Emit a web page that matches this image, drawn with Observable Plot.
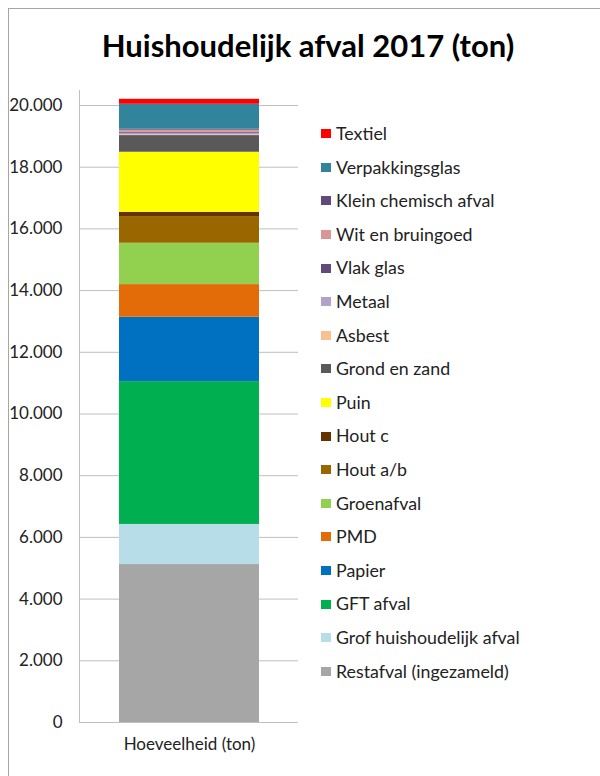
<!DOCTYPE html>
<html>
<head>
<meta charset="utf-8">
<script src="https://cdn.jsdelivr.net/npm/d3@7"></script>
<script src="https://cdn.jsdelivr.net/npm/@observablehq/plot@0.6"></script>
<style>
  html, body { margin: 0; padding: 0; background: #fff; overflow: hidden; }
  #wrap { position: relative; width: 600px; height: 776px; font-family: Lato, "Open Sans", sans-serif; }
  #box { position: absolute; left: 8px; top: 8px; width: 620px; height: 800px; border-left: 1px solid #a6a6a6; border-top: 1px solid #a6a6a6; }
  #title { position: absolute; left: 8px; width: 600px; top: 25px; text-align: center; font-size: 31px; font-weight: bold; color: #000; line-height: 40px; }
  #chart { position: absolute; left: 0; top: 90px; }
  #legend { position: absolute; left: 321px; top: 117px; font-size: 17.8px; color: #222; }
  .item { height: 33.6px; line-height: 33.6px; display: flex; align-items: center; white-space: nowrap; }
  .sw { width: 10px; height: 9px; margin-right: 5px; flex: none; }
</style>
</head>
<body>
<div id="wrap">
  <div id="box"></div>
  <div id="title">Huishoudelijk afval 2017 (ton)</div>
  <div id="chart"></div>
  <div id="legend"></div>
</div>
<script>
// Categories from bottom of the stack to top
const categories = [
  "Restafval (ingezameld)",
  "Grof huishoudelijk afval",
  "GFT afval",
  "Papier",
  "PMD",
  "Groenafval",
  "Hout a/b",
  "Hout c",
  "Puin",
  "Grond en zand",
  "Asbest",
  "Metaal",
  "Vlak glas",
  "Wit en bruingoed",
  "Klein chemisch afval",
  "Verpakkingsglas",
  "Textiel"
];
const values = [5120, 1300, 4630, 2085, 1060, 1340, 865, 140, 1945, 540, 20, 55, 30, 70, 30, 810, 160];
const colors = [
  "#a6a6a6", "#b7dde8", "#00b050", "#0070c0", "#e36c09", "#92d050", "#996600", "#663300",
  "#ffff00", "#595959", "#fac090", "#b3a2c7", "#604a7b", "#d99694", "#604a7b", "#31849b", "#ff0000"
];
const seriesName = "Hoeveelheid (ton)";
const yTicks = [0, 2000, 4000, 6000, 8000, 10000, 12000, 14000, 16000, 18000, 20000];

const nl = d3.formatLocale({decimal: ",", thousands: ".", grouping: [3], currency: ["€", ""]});
const fmt = nl.format(",");

const data = categories.map((c, i) => ({cat: c, value: values[i], series: seriesName}));

const chart = Plot.plot({
  width: 300,
  height: 680,
  marginLeft: 79,
  marginRight: 2,
  marginTop: 0,
  marginBottom: 48,
  style: {fontFamily: "Lato, 'Open Sans', sans-serif", fontSize: "17px", color: "#222", background: "transparent"},
  x: {domain: [seriesName], padding: 0.22, label: null},
  y: {domain: [0, 20000], insetTop: 15, label: null},
  color: {domain: categories, range: colors},
  marks: [
    Plot.gridY(yTicks, {stroke: "#bfbfbf", strokeOpacity: 1}),
    Plot.frame({anchor: "left", stroke: "#bfbfbf"}),
    Plot.barY(data, Plot.stackY({x: "series", y: "value", fill: "cat"})),
    Plot.axisY(yTicks, {tickSize: 0, tickPadding: 17, tickFormat: fmt, fontSize: 17, label: null}),
    Plot.axisX({tickSize: 0, tickPadding: 15, fontSize: 17, label: null})
  ]
});
document.getElementById("chart").appendChild(chart);

const legend = document.getElementById("legend");
categories.slice().reverse().forEach((c) => {
  const i = categories.indexOf(c);
  const row = document.createElement("div");
  row.className = "item";
  const sw = document.createElement("span");
  sw.className = "sw";
  sw.style.background = colors[i];
  const t = document.createElement("span");
  t.textContent = c;
  row.appendChild(sw);
  row.appendChild(t);
  legend.appendChild(row);
});
</script>
</body>
</html>
